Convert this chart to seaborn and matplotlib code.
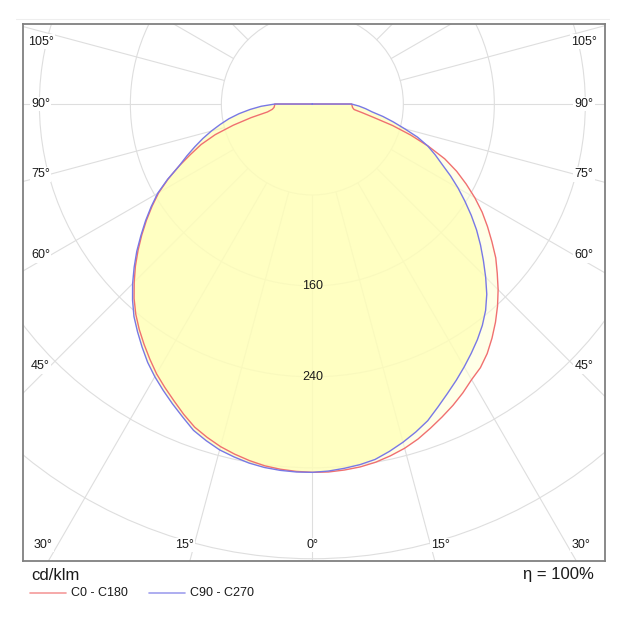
import numpy as np
import pandas as pd
import matplotlib
matplotlib.use('Agg')
import matplotlib.pyplot as plt
import seaborn as sns
from matplotlib.lines import Line2D
from matplotlib.patches import Circle

# Light distribution curve (cd/klm), gamma angle from nadir, 2.5 deg steps
gamma = np.arange(0, 92.5, 2.5)
c0 = [324, 324, 323.2, 322, 320, 317, 313.5, 309, 303.5, 298, 292.5, 286.5, 280, 275,
      268, 259.5, 250.5, 241, 231, 220.5, 210.5, 199, 188, 177, 165, 152.5, 140, 126,
      108.5, 90.5, 73, 56, 45, 37, 35.5, 35, 34.5]
c180 = [324, 323.5, 322.5, 321, 318.5, 315.5, 312, 307.5, 302.5, 295.5, 288, 281, 274, 266,
        258, 250, 241.5, 232, 221.5, 211, 200, 189, 178, 167, 156, 143, 129.5, 116,
        104, 89.5, 72, 55, 40, 35.5, 33.8, 33.3, 33]
c90 = [324, 323.2, 321.7, 320, 317.5, 313, 308, 302.5, 296.5, 288.5, 281, 274, 267, 260,
       253, 245.5, 237, 227, 215.5, 204, 193, 182, 170.5, 159, 148, 137, 126, 117,
       108, 97, 84, 73, 63, 53, 47, 41, 34.5]
c270 = [324, 324, 323.5, 322.5, 320.7, 318, 315, 310.5, 305.5, 298, 291, 284, 277, 269.5,
        261, 252.5, 244, 234, 223.5, 212.5, 201.5, 190, 179, 168, 157, 143.5, 129.5, 119.5,
        110, 101, 92, 83, 74.5, 65, 55, 45, 33]

rings = [80, 160, 240, 320, 400]
ring_labels = [160, 240]
side_angles = [105, 90, 75, 60, 45]
bottom_angles = [-30, -15, 0, 15, 30]
unit_text = 'cd/klm'
eta_text = 'η = 100%'
series = ['C0 - C180', 'C90 - C270']
colors = {'C0 - C180': '#f07070', 'C90 - C270': '#7878e6'}

sns.set_style('white')
plt.rcParams['font.family'] = ['Liberation Sans', 'DejaVu Sans']


def half(values, side):
    g = np.radians(gamma)
    inten = np.asarray(values, dtype=float)
    return side * inten * np.sin(g), -inten * np.cos(g)


def outline(left, right):
    xl, yl = half(left, -1)
    xr, yr = half(right, 1)
    x = np.concatenate([[0], xl[::-1], xr[1:], [0]])
    y = np.concatenate([[0], yl[::-1], yr[1:], [0]])
    return x, y


frames = []
for name, left, right in [('C0 - C180', c180, c0), ('C90 - C270', c270, c90)]:
    x, y = outline(left, right)
    frames.append(pd.DataFrame({'x': x, 'y': y, 'curve': name}))
df = pd.concat(frames, ignore_index=True)

W = 623
fig = plt.figure(figsize=(6.23, 6.23), dpi=100)
ax = fig.add_axes([23 / W, 62 / W, 582 / W, 537 / W])
ax.set_xlim(-254.4, 257.3)
ax.set_ylim(-402, 70.4)

# grid
grid_c = '#dedede'
for r in rings:
    ax.add_patch(Circle((0, 0), r, fill=False, ec=grid_c, lw=0.8, zorder=1))
for a in range(0, 360, 15):
    t = np.radians(a)
    ax.plot([80 * np.sin(t), 900 * np.sin(t)], [-80 * np.cos(t), -900 * np.cos(t)],
            color=grid_c, lw=0.8, zorder=1)

# fills
fill_cols = {'C0 - C180': '#ffffd8', 'C90 - C270': '#ffffaa'}
for name in series:
    d = df[df['curve'] == name]
    ax.fill(d['x'], d['y'], color=fill_cols[name], alpha=0.6, lw=0, zorder=2)

sns.lineplot(data=df, x='x', y='y', hue='curve', palette=colors, sort=False,
             estimator=None, lw=1, legend=False, ax=ax, zorder=3)

ax.set_xticks([])
ax.set_yticks([])
ax.set_xlabel('')
ax.set_ylabel('')
for s in ax.spines.values():
    s.set_color('#808080')
    s.set_linewidth(1.3)

# ring labels
for v in ring_labels:
    ax.text(0, -v, str(v), ha='center', va='center', fontsize=9, color='#1a1a1a', zorder=4)

# angle labels
box = dict(facecolor='white', edgecolor='none', pad=1.0)
for a in side_angles:
    yl = 0.0 if a == 90 else -239 / np.tan(np.radians(a)) * 0.965
    yl = min(yl, 55)
    for sx in (-1, 1):
        ax.text(sx * 239, yl, f'{a}°', ha='center', va='center', fontsize=9,
                color='#1a1a1a', bbox=box, zorder=4)
for a in bottom_angles:
    xl = np.clip(420 * np.tan(np.radians(a)), -237, 236)
    ax.text(xl, -388, f'{abs(a)}°', ha='center', va='center', fontsize=9,
            color='#1a1a1a', bbox=box, zorder=4)

# texts below the chart
fig.text(31 / W, 1 - 575 / W, unit_text, ha='left', va='center', fontsize=12, color='#1a1a1a')
fig.text(594 / W, 1 - 575 / W, eta_text, ha='right', va='center', fontsize=12, color='#1a1a1a')
fig.add_artist(Line2D([16 / W, 609 / W], [1 - 19 / W] * 2, color='#eeeeee', lw=0.8))

# legend
ly = 1 - 593 / W
for name, x0 in zip(series, [30, 149]):
    fig.add_artist(Line2D([x0 / W, (x0 + 36) / W], [ly, ly], color=colors[name], lw=1.2, alpha=0.7))
    fig.text((x0 + 41) / W, ly, name, ha='left', va='center', fontsize=9, color='#1a1a1a')

fig.savefig('out.png', dpi=100, facecolor='white')
